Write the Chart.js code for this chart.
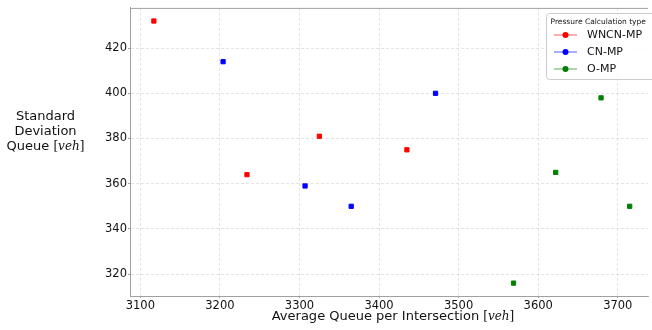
<!DOCTYPE html>
<html>
<head>
<meta charset="utf-8">
<script src="https://cdn.jsdelivr.net/npm/chart.js@4.4.0/dist/chart.umd.min.js"></script>
<style>
  html, body { margin: 0; padding: 0; background: #fff; }
  #wrap { width: 652px; height: 330px; position: relative; }
</style>
</head>
<body>
<div id="wrap"><canvas id="c" width="652" height="330"></canvas></div>
<script>
const seriesNames = ['WNCN-MP', 'CN-MP', 'O-MP'];
const seriesColors = ['#ff0000', '#0000ff', '#008000'];
const wncnX = [3117, 3234, 3325, 3435];
const wncnY = [432, 364, 381, 375];
const cnX = [3204, 3307, 3365, 3471];
const cnY = [414, 359, 350, 400];
const oX = [3569, 3622, 3679, 3715];
const oY = [316, 365, 398, 350];
const xTicks = [3100, 3200, 3300, 3400, 3500, 3600, 3700];
const yTicks = [320, 340, 360, 380, 400, 420];
const legendTitle = 'Pressure Calculation type';
const xTitle = 'Average Queue per Intersection';
const yTitleLines = ['Standard', 'Deviation', 'Queue'];
const unitText = 'veh';

function pts(xs, ys) { return xs.map((x, i) => ({ x: x, y: ys[i] })); }
const allX = [wncnX, cnX, oX];
const allY = [wncnY, cnY, oY];

const datasets = seriesNames.map((name, i) => ({
  label: name,
  data: pts(allX[i], allY[i]),
  backgroundColor: seriesColors[i],
  borderColor: seriesColors[i],
  borderWidth: 1,
  pointStyle: 'rect',
  pointRadius: 3,
  pointHoverRadius: 3
}));

function drawUnit(ctx, x, y, size) {
  const up = size + 'px "DejaVu Serif"';
  const it = 'italic ' + size + 'px "DejaVu Serif"';
  ctx.font = up; const wb = ctx.measureText('[').width;
  ctx.font = it; const wv = ctx.measureText(unitText).width;
  ctx.textAlign = 'left';
  ctx.font = up; ctx.fillText('[', x, y);
  ctx.font = it; ctx.fillText(unitText, x + wb, y);
  ctx.font = up; ctx.fillText(']', x + wb + wv, y);
}

function unitWidth(ctx, size) {
  ctx.font = size + 'px "DejaVu Serif"';
  const a = ctx.measureText('[]').width;
  ctx.font = 'italic ' + size + 'px "DejaVu Serif"';
  return a + ctx.measureText(unitText).width;
}

const decor = {
  id: 'decor',
  afterDraw(chart) {
    const ctx = chart.ctx;
    const a = chart.chartArea;
    ctx.save();
    ctx.strokeStyle = '#a0a0a0';
    ctx.lineWidth = 1;
    ctx.beginPath();
    ctx.moveTo(a.left, a.top + 0.5);
    ctx.lineTo(a.right, a.top + 0.5);
    ctx.stroke();

    ctx.fillStyle = '#111111';
    ctx.textBaseline = 'alphabetic';
    const fs = 13;
    // x title
    ctx.font = fs + 'px "DejaVu Sans"';
    const wMain = ctx.measureText(xTitle + ' ').width;
    const totalW = wMain + unitWidth(ctx, 12);
    const cx = (a.left + a.right) / 2 + 4;
    const sx = cx - totalW / 2;
    ctx.textAlign = 'left';
    ctx.font = fs + 'px "DejaVu Sans"';
    ctx.fillText(xTitle + ' ', sx, 320);
    drawUnit(ctx, sx + wMain, 320, 12);

    // y title
    const ycx = 45.5;
    const bases = [119.5, 134.5, 149.5];
    ctx.font = fs + 'px "DejaVu Sans"';
    ctx.textAlign = 'center';
    ctx.fillText(yTitleLines[0], ycx, bases[0]);
    ctx.fillText(yTitleLines[1], ycx, bases[1]);
    ctx.font = fs + 'px "DejaVu Sans"';
    const wq = ctx.measureText(yTitleLines[2] + ' ').width;
    const tw = wq + unitWidth(ctx, 12);
    const qx = ycx - tw / 2;
    ctx.textAlign = 'left';
    ctx.font = fs + 'px "DejaVu Sans"';
    ctx.fillText(yTitleLines[2] + ' ', qx, bases[2]);
    drawUnit(ctx, qx + wq, bases[2], 12);

    // legend
    const lx = 546.5, ly = 13.5, lw = 110, lh = 66;
    ctx.fillStyle = 'rgba(255,255,255,0.85)';
    ctx.strokeStyle = '#cccccc';
    ctx.lineWidth = 1;
    ctx.beginPath();
    ctx.roundRect(lx, ly, lw, lh, 3);
    ctx.fill();
    ctx.stroke();
    ctx.fillStyle = '#111111';
    ctx.font = '7.5px "DejaVu Sans"';
    ctx.textAlign = 'left';
    ctx.textBaseline = 'alphabetic';
    ctx.fillText(legendTitle, 550.5, 23.5);
    const rows = [35, 52, 69];
    chart.data.datasets.forEach((ds, i) => {
      const yy = rows[i];
      ctx.globalAlpha = 0.55;
      ctx.strokeStyle = ds.borderColor;
      ctx.lineWidth = 1.2;
      ctx.beginPath();
      ctx.moveTo(554, yy);
      ctx.lineTo(577, yy);
      ctx.stroke();
      ctx.globalAlpha = 1;
      ctx.fillStyle = ds.backgroundColor;
      ctx.beginPath();
      ctx.arc(565.5, yy, 3, 0, Math.PI * 2);
      ctx.fill();
      ctx.fillStyle = '#111111';
      ctx.font = '11px "DejaVu Sans"';
      ctx.textBaseline = 'middle';
      ctx.fillText(ds.label, 587, yy + 0.5);
    });
    ctx.restore();
  }
};

new Chart(document.getElementById('c'), {
  type: 'scatter',
  data: { datasets: datasets },
  options: {
    responsive: false,
    animation: false,
    devicePixelRatio: 1,
    layout: { padding: { left: 0, top: 7, right: 1, bottom: 0 } },
    plugins: { legend: { display: false }, tooltip: { enabled: false } },
    scales: {
      x: {
        type: 'linear',
        min: 3087,
        max: 3738,
        afterBuildTicks: s => { s.ticks = xTicks.map(v => ({ value: v })); },
        afterFit: s => { s.height = 34; },
        grid: { color: '#dddddd', tickColor: '#888888', tickLength: 2, lineWidth: 0.8 },
        border: { color: '#a0a0a0', width: 1, dash: [3, 2] },
        ticks: { color: '#111111', font: { family: 'DejaVu Sans', size: 11.5 }, padding: 1, maxRotation: 0, autoSkip: false,
                 callback: v => String(v) }
      },
      y: {
        type: 'linear',
        min: 310.3,
        max: 437.8,
        afterBuildTicks: s => { s.ticks = yTicks.map(v => ({ value: v })); },
        afterFit: s => { s.width = 130; },
        grid: { color: '#dddddd', tickColor: '#888888', tickLength: 2, lineWidth: 0.8 },
        border: { color: '#a0a0a0', width: 1, dash: [3, 2] },
        ticks: { color: '#111111', font: { family: 'DejaVu Sans', size: 11.5 }, padding: 1, autoSkip: false,
                 callback: v => String(v) }
      }
    }
  },
  plugins: [decor]
});
</script>
</body>
</html>
